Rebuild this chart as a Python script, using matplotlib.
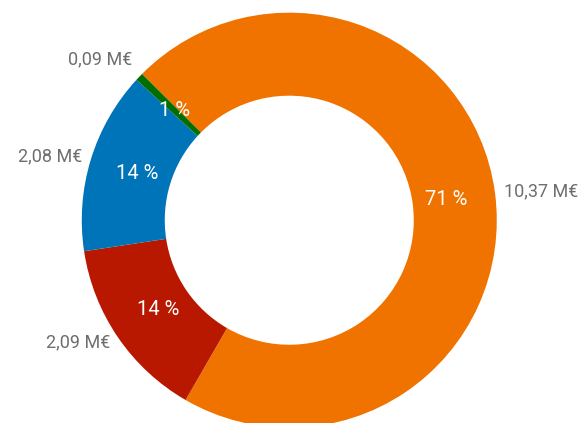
import numpy as np
import matplotlib.pyplot as plt

plt.rcParams['font.family'] = ['Roboto', 'DejaVu Sans']

# Data (clockwise from top-left)
categories = ['A', 'B', 'C', 'D']
values = [10.37, 2.09, 2.08, 0.09]
value_labels = ['10,37 M€', '2,09 M€', '2,08 M€', '0,09 M€']
pct_labels = ['71 %', '14 %', '14 %', '1 %']
colors = ['#F07300', '#B81800', '#0074B8', '#006E00']

fig = plt.figure(figsize=(5.8, 4.23), dpi=100)
ax = fig.add_axes([0, 0, 1, 1])

wedges, texts = ax.pie(values, colors=colors, startangle=135.2, counterclock=False,
                       radius=1.0, wedgeprops=dict(width=0.40, linewidth=0))

for w, vl, pl in zip(wedges, value_labels, pct_labels):
    mid = np.deg2rad((w.theta1 + w.theta2) / 2)
    x, y = np.cos(mid), np.sin(mid)
    ha = 'left' if x > 0 else 'right'
    # tiny slice label gets pushed up a bit
    dy = 8 if (w.theta1 - w.theta2) % 360 < 5 or (w.theta2 - w.theta1) < 5 else 0
    ax.annotate(vl, (1.045 * x, 1.045 * y), xytext=(0, dy), textcoords='offset points',
                ha=ha, va='center', fontsize=13, color='#6e6e6e')
    ax.text(0.765 * x, 0.765 * y, pl, ha='center', va='center', fontsize=14.5,
            color='white')

ax.set_xlim(-1.394, 1.401)
ax.set_ylim(-0.977, 1.061)
ax.set_aspect('auto')
ax.axis('off')

plt.savefig('out.png', dpi=100)
